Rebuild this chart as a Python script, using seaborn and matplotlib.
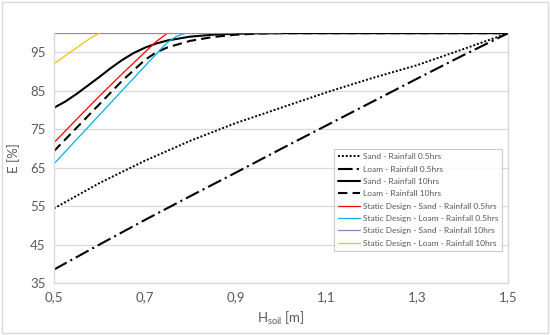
import matplotlib
matplotlib.use("Agg")
import matplotlib.pyplot as plt
import seaborn as sns
from matplotlib.patches import Rectangle

# ---------------------------
# Data
# ---------------------------
sand_05_h = [0.5, 0.6, 0.7, 0.8, 0.9, 1.0, 1.1, 1.2, 1.3, 1.4, 1.5]
sand_05_e = [54.4, 61.0, 66.8, 72.0, 76.6, 80.6, 84.6, 88.3, 91.7, 95.8, 100.0]

loam_05_h = [0.5, 0.6, 0.7, 0.8, 0.9, 1.0, 1.1, 1.2, 1.3, 1.4, 1.5]
loam_05_e = [38.5, 45.0, 51.4, 57.6, 63.7, 69.9, 76.0, 82.1, 88.2, 94.2, 100.0]

sand_10_h = [0.5, 0.525, 0.55, 0.575, 0.6, 0.625, 0.65, 0.675, 0.7, 0.725,
             0.75, 0.8, 0.85, 0.9, 0.95, 1.0, 1.5]
sand_10_e = [80.6, 82.2, 84.2, 86.4, 88.6, 90.9, 93.0, 94.8, 96.2, 97.3,
             98.1, 99.1, 99.6, 99.85, 99.95, 100.0, 100.0]

loam_10_h = [0.5, 0.55, 0.6, 0.65, 0.7, 0.725, 0.75, 0.8, 0.85, 0.9, 0.95, 1.0, 1.5]
loam_10_e = [69.3, 75.4, 81.5, 87.6, 93.0, 95.0, 96.3, 98.0, 99.0, 99.6, 99.9, 100.0, 100.0]

static_sand_05_h = [0.5, 0.55, 0.6, 0.65, 0.7, 0.725, 0.75, 1.0]
static_sand_05_e = [71.5, 77.6, 83.6, 89.4, 95.0, 97.8, 100.0, 100.0]

static_loam_05_h = [0.5, 0.6, 0.7, 0.73, 0.75, 0.77, 0.79, 0.9]
static_loam_05_e = [66.0, 78.7, 91.4, 95.2, 97.6, 99.2, 100.0, 100.0]

static_sand_10_h = [0.5, 0.87]
static_sand_10_e = [100.0, 100.0]

static_loam_10_h = [0.5, 0.52, 0.55, 0.58, 0.6]
static_loam_10_e = [92.0, 93.7, 96.2, 98.7, 100.0]

x_ticks = [0.5, 0.7, 0.9, 1.1, 1.3, 1.5]
x_tick_labels = ["0,5", "0,7", "0,9", "1,1", "1,3", "1,5"]
y_ticks = [35, 45, 55, 65, 75, 85, 95]

# ---------------------------
# Style
# ---------------------------
sns.set_style("white")
plt.rcParams["font.family"] = ["Lato", "DejaVu Sans"]
plt.rcParams["mathtext.fontset"] = "custom"
plt.rcParams["mathtext.rm"] = "Lato"
plt.rcParams["mathtext.it"] = "Lato"
plt.rcParams["mathtext.default"] = "rm"

text_color = "#595959"
grid_color = "#D9D9D9"

series = [
    (sand_05_h, sand_05_e, "Sand - Rainfall 0.5hrs", "black", (0, (1, 1)), 1.4),
    (loam_05_h, loam_05_e, "Loam - Rainfall 0.5hrs", "black", (0, (7, 2, 1, 2)), 1.5),
    (sand_10_h, sand_10_e, "Sand - Rainfall 10hrs", "black", "-", 1.5),
    (loam_10_h, loam_10_e, "Loam - Rainfall 10hrs", "black", (0, (4.5, 2.5)), 1.5),
    (static_sand_05_h, static_sand_05_e, "Static Design - Sand - Rainfall 0.5hrs", "#FF0000", "-", 0.9),
    (static_loam_05_h, static_loam_05_e, "Static Design - Loam - Rainfall 0.5hrs", "#00B0F0", "-", 0.9),
    (static_sand_10_h, static_sand_10_e, "Static Design - Sand - Rainfall 10hrs", "#9A7CC8", "-", 0.9),
    (static_loam_10_h, static_loam_10_e, "Static Design - Loam - Rainfall 10hrs", "#FFC000", "-", 0.9),
]

fig = plt.figure(figsize=(5.5, 3.35), dpi=100)
ax = fig.add_axes([0.098, 0.155, 0.826, 0.746])

for h, e, label, color, ls, lw in series:
    sns.lineplot(x=h, y=e, ax=ax, color=color, linestyle=ls, linewidth=lw,
                 label=label, estimator=None, sort=False)

ax.set_xlim(0.5, 1.5)
ax.set_ylim(35, 100)
ax.set_xticks(x_ticks)
ax.set_xticklabels(x_tick_labels)
ax.set_yticks(y_ticks)
ax.tick_params(axis="both", length=0, labelsize=9.5, colors=text_color, pad=6)
ax.yaxis.grid(True, color=grid_color, linewidth=0.9)
ax.set_axisbelow(True)

for side in ["left", "bottom", "right"]:
    ax.spines[side].set_color(grid_color)
    ax.spines[side].set_linewidth(1.0)
ax.spines["top"].set_visible(False)

ax.set_xlabel("H$_{soil}$ [m]", fontsize=9.5, color=text_color, labelpad=5)
ax.set_ylabel("E [%]", fontsize=9.5, color=text_color, labelpad=7)

leg = ax.legend(loc="upper right", bbox_to_anchor=(0.987, 0.536), fontsize=6,
                frameon=True, fancybox=False, labelspacing=0.64,
                handlelength=2.6, handletextpad=0.3, borderpad=0.5,
                borderaxespad=0)
leg.get_frame().set_edgecolor("#BFBFBF")
leg.get_frame().set_linewidth(0.8)
for t in leg.get_texts():
    t.set_color(text_color)

# outer chart border
fig.patches.append(Rectangle((0.004, 0.006), 0.992, 0.988, transform=fig.transFigure,
                             fill=False, edgecolor=grid_color, linewidth=1.0))

fig.savefig("out.png", dpi=100)
